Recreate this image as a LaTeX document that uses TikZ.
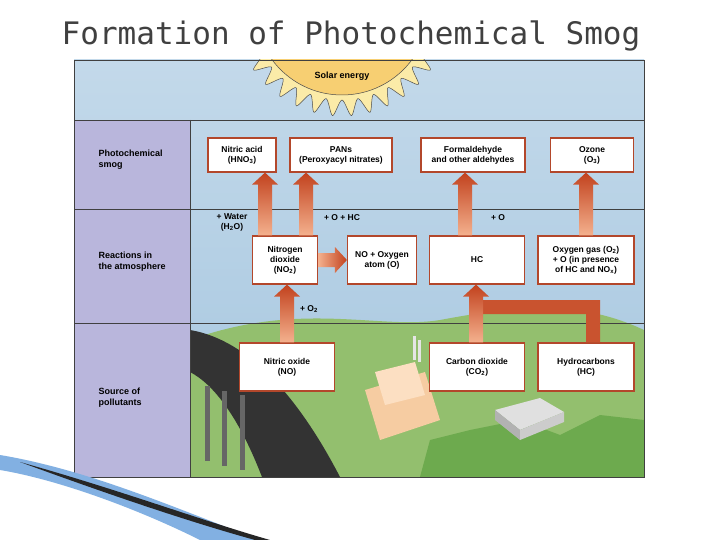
\documentclass[tikz,border=0pt]{standalone}
\usepackage{fontspec}
\setmainfont{Liberation Sans}
\newfontfamily\titlefont{DejaVu Sans Mono}
\usetikzlibrary{calc}
\definecolor{sky}{HTML}{A5C6DF}
\definecolor{skytop}{HTML}{C3D9EA}
\definecolor{lav}{HTML}{B9B6DC}
\definecolor{bord}{HTML}{B3472B}
\definecolor{adark}{HTML}{C2421E}
\definecolor{alight}{HTML}{F4B18E}
\definecolor{grass}{HTML}{93BF6E}
\definecolor{tree}{HTML}{6DAA4E}
\definecolor{sundisk}{HTML}{F7CF72}
\definecolor{corona}{HTML}{FBEBA8}
\tikzset{
 box/.style={draw=bord,fill=white,line width=1.2pt,align=center,font=\fontsize{8.5}{10}\selectfont\bfseries,inner sep=2pt},
 lbl/.style={font=\fontsize{8.5}{10}\selectfont\bfseries,align=center},
 side/.style={font=\fontsize{9}{11}\selectfont\bfseries,align=left,anchor=west},
 sep/.style={draw=black!75,line width=0.8pt}
}
\newcommand\smogarrow[3]{%
 \shade[bottom color=alight,top color=adark] let \p1=(#2.north),\p2=(#3.south) in
 ({#1pt-7pt},\y1) -- ({#1pt-7pt},\y2-12pt) -- ({#1pt-13pt},\y2-12pt) -- (#1pt,\y2) -- ({#1pt+13pt},\y2-12pt) -- ({#1pt+7pt},\y2-12pt) -- ({#1pt+7pt},\y1) -- cycle;}
\begin{document}
\begin{tikzpicture}[x=1pt,y=-1pt]
\useasboundingbox (0,0) rectangle (720,540);
\fill[white] (0,0) rectangle (720,540);
% title
\node[font=\titlefont\fontsize{31}{34}\selectfont,text=black!75] (title) at (351,36) {Formation of Photochemical Smog};
% sky
\shade[top color=skytop,bottom color=sky] (74,60) rectangle (644,477);
% sun
\begin{scope}
\clip (74,60) rectangle (644,477);
\fill[corona,draw=black!70,line width=0.5pt,shift={(342,8)}] plot[smooth cycle,samples=72,domain=0:355] (\x:{(mod(\x,10)<5?92:108)});
\fill[sundisk,draw=black!70,line width=0.5pt] (342,8) circle (87);
\end{scope}
\node[lbl,font=\fontsize{9}{11}\selectfont\bfseries] (sun) at (342,76) {Solar energy};
% ground
\fill[grass] (190,340) .. controls (300,300) and (380,330) .. (440,320) .. controls (520,305) and (580,300) .. (644,330) -- (644,477) -- (190,477) -- cycle;
\fill[tree] (420,477) -- (430,440) -- (470,430) -- (520,420) -- (560,435) -- (600,415) -- (644,420) -- (644,477) -- cycle;
% road
\fill[black!80] (190,330) .. controls (250,340) and (300,400) .. (340,477) -- (262,477) .. controls (240,420) and (215,385) .. (190,372) -- cycle;
\foreach \p in {205,222,240}{\fill[black!60] (\p,385+\p/4-50) rectangle (\p+5,430+\p/4-20);}
% factory
\fill[brown!35!orange!40] (365,390) -- (425,372) -- (440,420) -- (380,440) -- cycle;
\fill[brown!20!orange!25] (375,372) -- (415,362) -- (425,395) -- (385,405) -- cycle;
\fill[white!90!black] (413,336) rectangle (416,360); \fill[white!90!black] (418,340) rectangle (421,362);
% building
\fill[black!12] (495,410) -- (540,398) -- (564,412) -- (520,430) -- cycle;
\fill[black!30] (495,410) -- (520,430) -- (520,440) -- (495,420) -- cycle;
\fill[black!20] (520,430) -- (564,412) -- (564,422) -- (520,440) -- cycle;
% left column
\fill[lav] (74,120) rectangle (190,477);
\draw[sep] (74,60) rectangle (644,477);
\draw[sep] (190,120) -- (190,477);
\foreach \y in {120,209,323}{\draw[sep] (74,\y) -- (644,\y);}
\node[side] (l1) at (95,160) {Photochemical\\smog};
\node[side] (l2) at (95,262) {Reactions in\\the atmosphere};
\node[side] (l3) at (95,398) {Source of\\pollutants};
% boxes
\node[box,minimum width=68,minimum height=34] (hno3) at (242,155) {Nitric acid\\(HNO\textsubscript{3})};
\node[box,minimum width=102,minimum height=34] (pan) at (341,155) {PANs\\(Peroxyacyl nitrates)};
\node[box,minimum width=104,minimum height=34] (form) at (473,155) {Formaldehyde\\and other aldehydes};
\node[box,minimum width=83,minimum height=34] (ozone) at (592,155) {Ozone\\(O\textsubscript{3})};
\node[box,minimum width=65,minimum height=48] (no2) at (285,260) {Nitrogen\\dioxide\\(NO\textsubscript{2})};
\node[box,minimum width=69,minimum height=48] (noo) at (382,260) {NO + Oxygen\\atom (O)};
\node[box,minimum width=95,minimum height=48] (hc) at (477,260) {HC};
\node[box,minimum width=96,minimum height=48] (o2) at (586,260) {Oxygen gas (O\textsubscript{2})\\+ O (in presence\\of HC and NO\textsubscript{x})};
\node[box,minimum width=95,minimum height=48] (no) at (287,367) {Nitric oxide\\(NO)};
\node[box,minimum width=95,minimum height=48] (co2) at (477,367) {Carbon dioxide\\(CO\textsubscript{2})};
\node[box,minimum width=96,minimum height=48] (hcs) at (586,367) {Hydrocarbons\\(HC)};
% arrows
\fill[adark!85!alight] let \p1=(hcs.north) in (586pt,\y1) -- (586pt,-314pt) -- (483pt,-314pt) -- (483pt,-300pt) -- (600pt,-300pt) -- (600pt,\y1) -- cycle;
\smogarrow{265}{no2}{hno3}
\smogarrow{306}{no2}{pan}
\smogarrow{465}{hc}{form}
\smogarrow{586}{o2}{ozone}
\smogarrow{287}{no}{no2}
\smogarrow{476}{co2}{hc}
\shade[left color=alight,right color=adark] let \p1=(no2.east),\p2=(noo.west) in
 (\x1,\y1+7pt) -- (\x2-12pt,\y1+7pt) -- (\x2-12pt,\y1+13pt) -- (\x2,\y1) -- (\x2-12pt,\y1-13pt) -- (\x2-12pt,\y1-7pt) -- (\x1,\y1-7pt) -- cycle;
% labels
\node[lbl] (w) at (232,222) {+ Water\\(H\textsubscript{2}O)};
\node[lbl] (ohc) at (342,218) {+ O + HC};
\node[lbl] (o) at (498,218) {+ O};
\node[lbl] (o2l) at (309,309) {+ O\textsubscript{2}};
% swoosh
\fill[cyan!60!blue!50] (0,455) .. controls (90,470) and (180,510) .. (260,540) -- (200,540) .. controls (140,510) and (60,480) .. (0,470) -- cycle;
\fill[black!85] (20,462) .. controls (120,490) and (200,520) .. (270,540) -- (255,540) .. controls (190,522) and (110,495) .. (20,462) -- cycle;
\end{tikzpicture}
\end{document}
